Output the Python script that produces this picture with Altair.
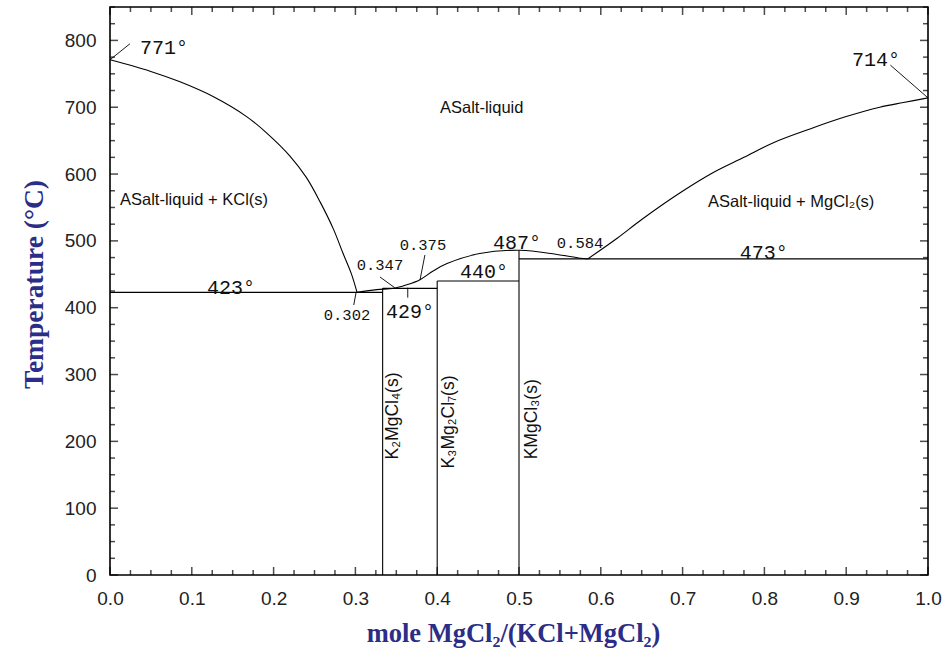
import altair as alt
import pandas as pd

# ---------------- data ----------------
# liquidus, KCl side
left_x = [0.0, 0.049, 0.0856, 0.126, 0.167, 0.192, 0.220, 0.240, 0.257, 0.273, 0.285, 0.295, 0.302]
left_T = [771, 754, 738, 716, 686, 661, 627, 595, 558, 518, 481, 451, 423]
# liquidus, intermediate compounds
mid_x = [0.302, 0.326, 0.347, 0.362, 0.379, 0.395, 0.412, 0.452, 0.501, 0.545, 0.575, 0.584]
mid_T = [423, 427, 429, 434, 442, 455, 466, 481, 486, 480, 474, 473]
# liquidus, MgCl2 side
right_x = [0.584, 0.62, 0.65, 0.697, 0.737, 0.775, 0.811, 0.859, 0.9, 0.941, 0.97, 1.0]
right_T = [473, 504, 532, 572, 602, 625, 647, 669, 686, 700, 707, 714]

# invariant lines (horizontal) and compound lines (vertical)
seg_x = [0.0, 0.3333, 0.4, 0.5, 0.3333, 0.4, 0.5]
seg_x2 = [0.3333, 0.4, 0.5, 1.0, 0.3333, 0.4, 0.5]
seg_T = [423, 429, 440, 473, 0, 0, 0]
seg_T2 = [423, 429, 440, 473, 429, 440, 486]

# leader lines from labels to points
lead_x = [0.0, 0.954, 0.330, 0.385, 0.301, 0.364]
lead_x2 = [0.0244, 1.0, 0.348, 0.379, 0.298, 0.364]
lead_T = [771, 763, 446, 479, 424, 430]
lead_T2 = [795, 714, 430, 441.6, 404, 415]

# temperature labels
temp_text = ["771°", "714°", "423°", "429°", "440°", "487°", "473°"]
temp_x = [0.0367, 0.907, 0.1186, 0.3374, 0.4279, 0.4682, 0.770]
temp_T = [789, 771, 430, 394, 454, 497, 482]

# composition labels
comp_text = ["0.302", "0.347", "0.375", "0.584"]
comp_x = [0.2897, 0.330, 0.3826, 0.5746]
comp_T = [389, 464, 494, 497]

# phase region labels
region_text = ["ASalt-liquid", "ASalt-liquid + KCl(s)", "ASalt-liquid + MgCl\u2082(s)"]
region_x = [0.4034, 0.0122, 0.731]
region_T = [699, 561, 558]

# compound labels (vertical)
cmpd_text = ["K\u2082MgCl\u2084(s)", "K\u2083Mg\u2082Cl\u2087(s)", "KMgCl\u2083(s)"]
cmpd_x = [0.346, 0.4144, 0.516]
cmpd_T = [238, 229, 233]

# axis ticks
x_major = [0.0, 0.1, 0.2, 0.3, 0.4, 0.5, 0.6, 0.7, 0.8, 0.9, 1.0]
x_minor = [i / 40 for i in range(41) if i % 4]
y_major = [0, 100, 200, 300, 400, 500, 600, 700, 800]
y_minor = [i * 25 for i in range(35) if i % 4]

# ---------------- chart ----------------
W, H = 818, 568
X_MAX, T_MAX = 1.0, 850.0
NAVY = "#2b2d86"

xs = alt.Scale(domain=[0, X_MAX], nice=False, zero=False, padding=0)
ys = alt.Scale(domain=[0, T_MAX], nice=False, zero=False, padding=0)

xaxis = alt.Axis(
    values=x_major, format=".1f", tickSize=0, domain=False, grid=False,
    labelFont="Liberation Sans", labelFontSize=19, labelColor="#222222",
    labelPadding=14, labelFlush=False,
    title="mole MgCl\u2082/(KCl+MgCl\u2082)", titleFont="Liberation Serif",
    titleFontSize=26.5, titleFontWeight="bold", titleColor=NAVY,
    titleX=403, titleY=58, titleBaseline="middle", titleAlign="center",
)
yaxis = alt.Axis(
    values=y_major, format="d", tickSize=0, domain=False, grid=False,
    labelFont="Liberation Sans", labelFontSize=19, labelColor="#222222",
    labelPadding=14, labelFlush=False,
    title="Temperature (°C)", titleFont="Liberation Serif",
    titleFontSize=27.5, titleFontWeight="bold", titleColor=NAVY,
    titleX=-76, titleY=277, titleAngle=270, titleBaseline="middle", titleAlign="center",
)


def X(f):
    return alt.X(f, type="quantitative", scale=xs, axis=xaxis)


def Y(f):
    return alt.Y(f, type="quantitative", scale=ys, axis=yaxis)


# inward tick marks on all four sides, drawn with tick marks (length in px)
def x_ticks(vals, length):
    df = pd.DataFrame({"v": vals})
    base = alt.Chart(df).mark_tick(color="black", thickness=1.5, size=length)
    return [
        base.encode(x=X("v"), y=alt.value(H - length / 2)),
        base.encode(x=X("v"), y=alt.value(length / 2)),
    ]


def y_ticks(vals, length):
    df = pd.DataFrame({"v": vals})
    base = alt.Chart(df).mark_tick(color="black", thickness=1.5, size=length)
    return [
        base.encode(y=Y("v"), x=alt.value(length / 2)),
        base.encode(y=Y("v"), x=alt.value(W - length / 2)),
    ]


tick_layers = x_ticks(x_major, 8) + x_ticks(x_minor, 5) + y_ticks(y_major, 8) + y_ticks(y_minor, 5)

curves = pd.DataFrame({
    "x": left_x + mid_x + right_x,
    "T": left_T + mid_T + right_T,
    "series": ["left"] * len(left_x) + ["mid"] * len(mid_x) + ["right"] * len(right_x),
    "i": list(range(len(left_x))) + list(range(len(mid_x))) + list(range(len(right_x))),
})
segs = pd.DataFrame({"x": seg_x, "x2": seg_x2, "T": seg_T, "T2": seg_T2})
leads = pd.DataFrame({"x": lead_x, "x2": lead_x2, "T": lead_T, "T2": lead_T2})
temps = pd.DataFrame({"t": temp_text, "x": temp_x, "T": temp_T})
comps = pd.DataFrame({"t": comp_text, "x": comp_x, "T": comp_T})
regions = pd.DataFrame({"t": region_text, "x": region_x, "T": region_T})
cmpds = pd.DataFrame({"t": cmpd_text, "x": cmpd_x, "T": cmpd_T})

line_layer = alt.Chart(curves).mark_line(
    color="black", strokeWidth=1.1, interpolate="catmull-rom"
).encode(x=X("x"), y=Y("T"), detail="series:N", order="i:Q")

seg_layer = alt.Chart(segs).mark_rule(color="black", strokeWidth=1.1).encode(
    x=X("x"), x2="x2", y=Y("T"), y2="T2")

lead_layer = alt.Chart(leads).mark_rule(color="black", strokeWidth=0.9).encode(
    x=X("x"), x2="x2", y=Y("T"), y2="T2")

temp_layer = alt.Chart(temps).mark_text(
    font="Liberation Mono", fontSize=20, align="left", baseline="middle", color="#111111"
).encode(x=X("x"), y=Y("T"), text="t:N")

comp_layer = alt.Chart(comps).mark_text(
    font="Liberation Mono", fontSize=15.5, align="center", baseline="middle", color="#111111"
).encode(x=X("x"), y=Y("T"), text="t:N")

region_layer = alt.Chart(regions).mark_text(
    font="Liberation Sans", fontSize=16.5, align="left", baseline="middle", color="#111111"
).encode(x=X("x"), y=Y("T"), text="t:N")

cmpd_layer = alt.Chart(cmpds).mark_text(
    font="Liberation Sans", fontSize=17.5, align="center", baseline="middle",
    angle=270, color="#111111"
).encode(x=X("x"), y=Y("T"), text="t:N")

chart = alt.layer(
    seg_layer, line_layer, lead_layer, *tick_layers,
    temp_layer, comp_layer, region_layer, cmpd_layer,
).properties(
    width=W, height=H,
    padding={"left": 110, "top": 7, "right": 16, "bottom": 73},
    autosize="none",
    background="white",
).configure_view(
    stroke="black", strokeWidth=1.6
)

chart.save("out.html", embed_options={"renderer": "svg", "actions": False})
